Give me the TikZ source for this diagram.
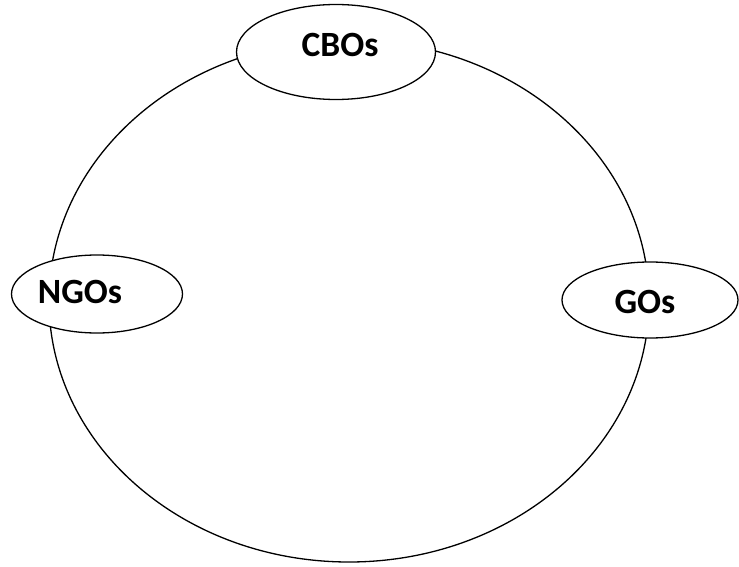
\documentclass[tikz,border=0pt]{standalone}
\usepackage{fontspec}
\setmainfont{Carlito}
\usetikzlibrary{shapes.geometric}
\begin{document}
\begin{tikzpicture}[x=1pt,y=-1pt,
  ring/.style={draw=black,line width=1.3pt},
  org/.style={ellipse,draw=black,line width=1.3pt,fill=white,inner sep=0pt},
  lbl/.style={font=\fontsize{35.5}{42}\selectfont\bfseries,inner sep=0pt,anchor=center}]
\useasboundingbox (0,0) rectangle (739,567);
\node[ellipse,ring,minimum width=600pt,minimum height=522pt,inner sep=0pt] (big) at (349,301) {};
\node[org,minimum width=199pt,minimum height=95pt] (cbo) at (336,52) {};
\node[org,minimum width=171pt,minimum height=78pt] (ngo) at (97,294) {};
\node[org,minimum width=176pt,minimum height=76pt] (go) at (650,300) {};
\node[lbl] (cbot) at ([shift={(4,-7)}]cbo.center) {CBOs};
\node[lbl] (ngot) at ([shift={(-17,-2)}]ngo.center) {NGOs};
\node[lbl] (got) at ([shift={(-5,2)}]go.center) {GOs};
\end{tikzpicture}
\end{document}
